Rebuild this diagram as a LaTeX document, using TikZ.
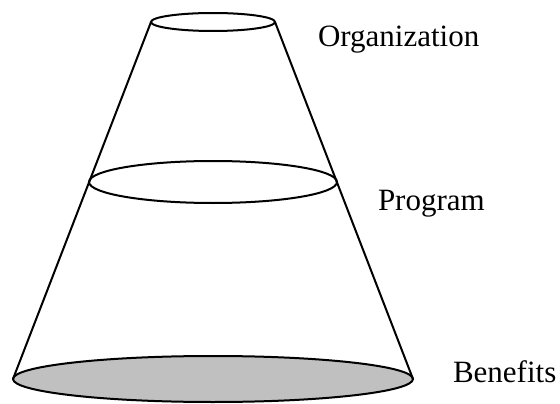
\documentclass[tikz,border=0pt]{standalone}
\usepackage{fontspec}
\setmainfont{Liberation Serif}
\usepackage{tikz}
\usetikzlibrary{positioning}
\usetikzlibrary{shapes.geometric}
\usepackage{xcolor}
\definecolor{lvlgray}{HTML}{C0C0C0}

\begin{document}
\begin{tikzpicture}[x=1pt, y=-1pt, line width=2pt,
  level/.style={ellipse, draw, inner sep=0pt, outer sep=0pt},
  tag/.style={anchor=base west, inner sep=0pt, font=\fontsize{31}{36}\selectfont}]
  \useasboundingbox (0,0) rectangle (560,404);

  \node[level, fill=lvlgray, minimum width=400pt, minimum height=46pt] (base) at (213,379) {};
  \node[level, minimum width=248pt, minimum height=42pt] (mid) at (213,182) {};
  \node[level, minimum width=124pt, minimum height=18pt] (top) at (213,22) {};

  \draw (top.west) -- (base.west);
  \draw (top.east) -- (base.east);

  \node[tag] (org) at (317,47) {Organization};
  \node[tag] (prog) at (377,210) {Program};
  \node[tag] (ben) at (452,382) {Benefits};
\end{tikzpicture}
\end{document}
